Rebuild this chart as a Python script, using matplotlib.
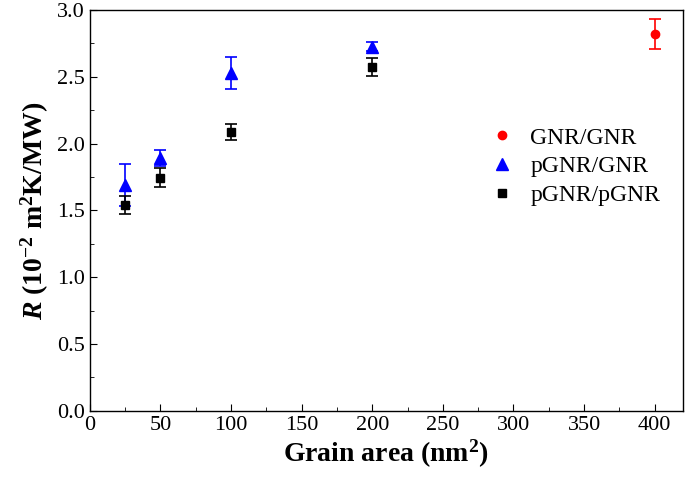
import matplotlib
matplotlib.use("Agg")
import matplotlib.pyplot as plt
from matplotlib.ticker import MultipleLocator

plt.rcParams.update({
    "font.family": "Liberation Serif",
    "mathtext.fontset": "custom",
    "mathtext.rm": "Liberation Serif",
    "mathtext.it": "Liberation Serif:italic",
    "mathtext.bf": "Liberation Serif:bold",
    "mathtext.bfit": "Liberation Serif:bold:italic",
})

# data
gnr_x = [400]
gnr_y = [2.82]
gnr_err = [0.11]

pgnr_gnr_x = [25, 50, 100, 200]
pgnr_gnr_y = [1.69, 1.89, 2.53, 2.725]
pgnr_gnr_err = [0.16, 0.06, 0.12, 0.035]

pgnr_pgnr_x = [25, 50, 100, 200]
pgnr_pgnr_y = [1.54, 1.745, 2.09, 2.575]
pgnr_pgnr_err = [0.07, 0.07, 0.06, 0.065]

fig = plt.figure(figsize=(6.85, 4.8), dpi=100)
ax = fig.add_axes([0.131, 0.144, 0.866, 0.835])

ax.errorbar(gnr_x, gnr_y, yerr=gnr_err, fmt='o', color='red', ms=6,
            capsize=4, elinewidth=1.2, capthick=1.2, label='GNR/GNR', zorder=3)
ax.errorbar(pgnr_gnr_x, pgnr_gnr_y, yerr=pgnr_gnr_err, fmt='^', color='blue', ms=8,
            capsize=4, elinewidth=1.2, capthick=1.2, label='pGNR/GNR', zorder=3)
ax.errorbar(pgnr_pgnr_x, pgnr_pgnr_y, yerr=pgnr_pgnr_err, fmt='s', color='black', ms=6,
            capsize=4, elinewidth=1.2, capthick=1.2, label='pGNR/pGNR', zorder=4)

ax.set_xlim(0, 420)
ax.set_ylim(0, 3.0)
ax.xaxis.set_major_locator(MultipleLocator(50))
ax.xaxis.set_minor_locator(MultipleLocator(25))
ax.yaxis.set_major_locator(MultipleLocator(0.5))
ax.yaxis.set_minor_locator(MultipleLocator(0.25))
ax.yaxis.set_major_formatter(plt.FormatStrFormatter('%.1f'))
ax.tick_params(which='both', direction='in', labelsize=16)
ax.tick_params(which='major', length=5)
ax.tick_params(which='minor', length=3)
for s in ax.spines.values():
    s.set_linewidth(1.0)

ax.set_xlabel(r"Grain area (nm$^\mathbf{2}$)", fontsize=20, fontweight='bold', labelpad=2)
ax.set_ylabel(r"$\mathbfit{R}$ (10$^\mathbf{-2}$ m$^\mathbf{2}$K/MW)", fontsize=20,
              fontweight='bold', labelpad=4)

handles, labels = ax.get_legend_handles_labels()
handles = [h[0] for h in handles]
ax.legend(handles, labels, loc='center left', bbox_to_anchor=(0.635, 0.61), frameon=False,
          fontsize=17, handletextpad=0.6, labelspacing=0.3, handlelength=1.2)

fig.savefig("out.png", dpi=100)
